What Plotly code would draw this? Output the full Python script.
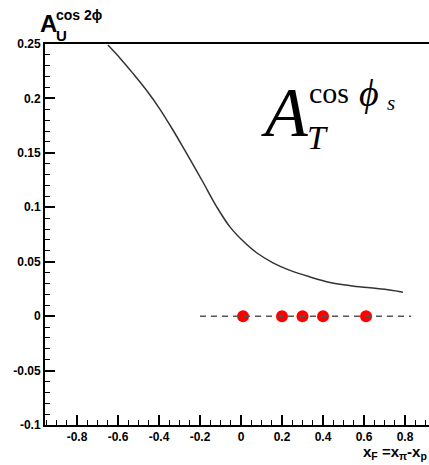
import plotly.graph_objects as go

# Model curve for the unpolarized cos 2phi asymmetry vs x_F
curve_xf = [-0.649, -0.590, -0.527, -0.459, -0.395, -0.332, -0.273, -0.224, -0.185,
            -0.117, -0.054, 0.010, 0.078, 0.156, 0.239, 0.337, 0.434, 0.532, 0.629,
            0.727, 0.790]
curve_a = [0.249, 0.237, 0.223, 0.207, 0.190, 0.171, 0.152, 0.136, 0.123,
           0.100, 0.082, 0.069, 0.058, 0.049, 0.042, 0.036, 0.031, 0.028, 0.026,
           0.024, 0.022]

# Projected measurement points (placed on zero)
point_xf = [0.01, 0.20, 0.30, 0.40, 0.61]
point_a = [0.0, 0.0, 0.0, 0.0, 0.0]

# Zero reference line
zero_xf = [-0.20, 0.83]
zero_a = [0.0, 0.0]

# Tick labels
x_tickvals = [-0.8, -0.6, -0.4, -0.2, 0.0, 0.2, 0.4, 0.6, 0.8]
x_ticktext = ["-0.8", "-0.6", "-0.4", "-0.2", "0", "0.2", "0.4", "0.6", "0.8"]
y_tickvals = [-0.1, -0.05, 0.0, 0.05, 0.1, 0.15, 0.2, 0.25]
y_ticktext = ["-0.1", "-0.05", "0", "0.05", "0.1", "0.15", "0.2", "0.25"]

W, H = 429, 465
ML, MR, MT, MB = 45, 0, 44, 40
PW, PH = W - ML - MR, H - MT - MB


def px(x):
    return (x - ML) / PW


def py(y):
    return (H - MB - y) / PH


fig = go.Figure()

fig.add_trace(go.Scatter(
    x=curve_xf, y=curve_a, mode="lines", line_shape="spline",
    line=dict(color="#333333", width=1.5, smoothing=1.0),
    showlegend=False, hoverinfo="skip",
))
fig.add_trace(go.Scatter(
    x=point_xf, y=point_a, mode="markers",
    marker=dict(color="#ff0000", size=12, line=dict(width=0)),
    showlegend=False, hoverinfo="skip",
))
fig.add_trace(go.Scatter(
    x=zero_xf, y=zero_a, mode="lines",
    line=dict(color="#555555", width=1.5, dash="6px,5px"),
    showlegend=False, hoverinfo="skip",
))

tick_font = dict(family="Liberation Sans", size=12, color="black", weight="bold")

fig.update_xaxes(
    range=[-0.956, 0.917], showgrid=False, zeroline=False,
    showline=True, linecolor="black", linewidth=2, mirror=True,
    ticks="inside", ticklen=10, tickwidth=1.5, tickcolor="black",
    tickvals=x_tickvals, ticktext=x_ticktext, tickfont=tick_font,
    minor=dict(tickmode="linear", tick0=0, dtick=0.05, ticks="inside",
               ticklen=5, tickwidth=1, tickcolor="black", showgrid=False),
)
fig.update_yaxes(
    range=[-0.1, 0.25], showgrid=False, zeroline=False,
    showline=True, linecolor="black", linewidth=2,
    ticks="inside", ticklen=10, tickwidth=1.5, tickcolor="black",
    tickvals=y_tickvals, ticktext=y_ticktext, tickfont=tick_font,
    minor=dict(tickmode="linear", tick0=0, dtick=0.01, ticks="inside",
               ticklen=5, tickwidth=1, tickcolor="black", showgrid=False),
)

sans_b = "Liberation Sans"
serif = "Liberation Serif"


def note(text, x, y, size, family, weight="normal", xanchor="center"):
    fig.add_annotation(
        text=text, xref="paper", yref="paper", x=px(x), y=py(y),
        xanchor=xanchor, yanchor="middle", showarrow=False,
        font=dict(family=family, size=size, color="black", weight=weight),
    )


# y-axis title: A_U^{cos 2phi}
note("A", 48, 24, 24, sans_b, "bold")
note("U", 61, 36, 15, sans_b, "bold")
note("cos 2ϕ", 79, 15, 14, sans_b, "bold")

# x-axis title
note("x<sub>F</sub> =x<sub>π</sub>-x<sub>p</sub>", 429, 452, 15, sans_b, "bold", xanchor="right")

# A_T^{cos phi_s}
note("<i>A</i>", 284, 112, 70, serif)
note("<i>T</i>", 317, 137, 34, serif)
note("cos", 329, 92, 30, serif)
note("<i>ϕ</i>", 369, 93, 38, serif)
note("<i>s</i>", 391, 103, 21, serif)

fig.update_layout(
    width=W, height=H,
    margin=dict(l=ML, r=MR, t=MT, b=MB),
    paper_bgcolor="white", plot_bgcolor="white",
)

fig.write_html("out.html")
